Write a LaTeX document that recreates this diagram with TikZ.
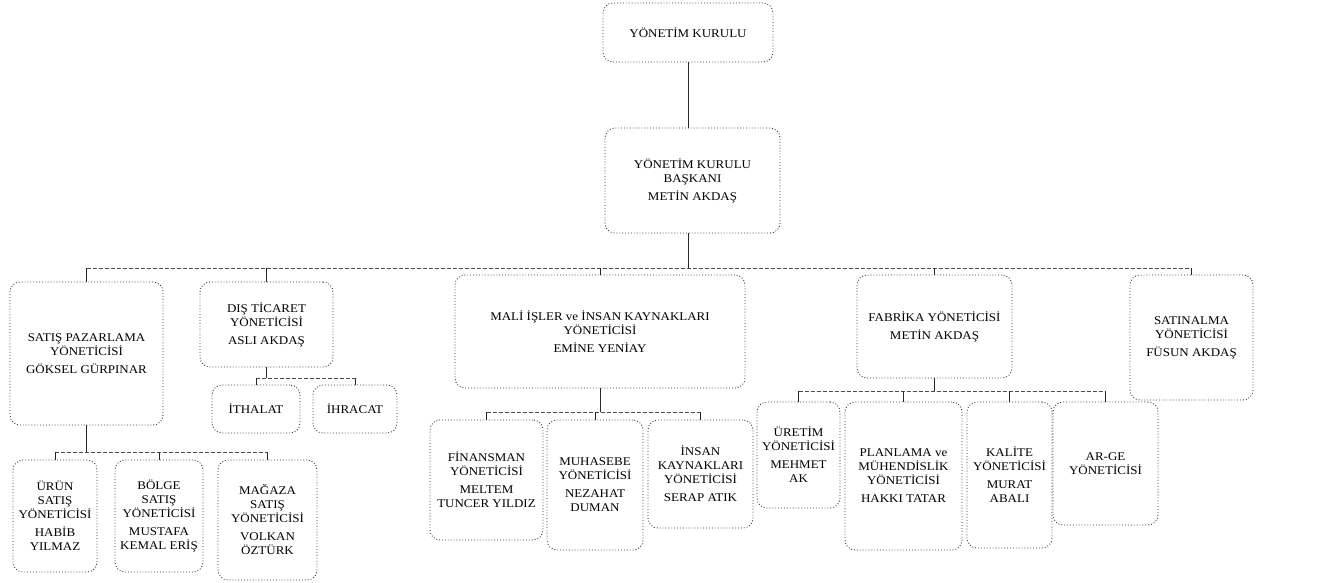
\documentclass[tikz,border=0pt]{standalone}
\usepackage{fontspec}
\setmainfont{Liberation Serif}[FakeStretch=1.1]
\tikzset{
  orglines/.style={line width=0.8pt, draw=black!85},
  orgbus/.style={line width=0.7pt, draw=black!70, dash pattern=on 4pt off 2pt},
  orgbox/.style={draw=black!80, dotted, line width=0.9pt, rounded corners=10pt,
    align=center, inner sep=2pt, font=\fontsize{11.8}{14}\selectfont},
}
\begin{document}
\begin{tikzpicture}[x=1pt, y=-1pt]
\useasboundingbox (0,0) rectangle (1322,582);
\node[orgbox, minimum width=170pt, minimum height=59pt] (kurul) at (688,32.5) {YÖNETİM KURULU};
\node[orgbox, minimum width=175pt, minimum height=105pt] (baskan) at (692.5,180.5) {YÖNETİM KURULU\\BAŞKANI\\[4pt]METİN AKDAŞ};
\node[orgbox, minimum width=153pt, minimum height=143pt] (satis) at (86.5,353.5) {SATIŞ PAZARLAMA\\YÖNETİCİSİ\\[4pt]GÖKSEL GÜRPINAR};
\node[orgbox, minimum width=133pt, minimum height=85pt] (disticaret) at (266.5,324.5) {DIŞ TİCARET\\YÖNETİCİSİ\\[4pt]ASLI AKDAŞ};
\node[orgbox, minimum width=88pt, minimum height=48pt] (ithalat) at (256,409) {İTHALAT};
\node[orgbox, minimum width=84pt, minimum height=48pt] (ihracat) at (355,409) {İHRACAT};
\node[orgbox, minimum width=84pt, minimum height=112pt] (urun) at (55,516) {ÜRÜN\\SATIŞ\\YÖNETİCİSİ\\[4pt]HABİB\\YILMAZ};
\node[orgbox, minimum width=88pt, minimum height=112pt] (bolge) at (159,516) {BÖLGE\\SATIŞ\\YÖNETİCİSİ\\[4pt]MUSTAFA\\KEMAL ERİŞ};
\node[orgbox, minimum width=99pt, minimum height=120pt] (magaza) at (267.5,520) {MAĞAZA\\SATIŞ\\YÖNETİCİSİ\\[4pt]VOLKAN\\ÖZTÜRK};
\node[orgbox, minimum width=290pt, minimum height=113pt] (mali) at (600,331.5) {MALİ İŞLER ve İNSAN KAYNAKLARI\\YÖNETİCİSİ\\[4pt]EMİNE YENİAY};
\node[orgbox, minimum width=113pt, minimum height=120pt] (finansman) at (486.5,480) {FİNANSMAN\\YÖNETİCİSİ\\[4pt]MELTEM\\TUNCER YILDIZ};
\node[orgbox, minimum width=96pt, minimum height=130pt] (muhasebe) at (595,485) {MUHASEBE\\YÖNETİCİSİ\\[4pt]NEZAHAT\\DUMAN};
\node[orgbox, minimum width=105pt, minimum height=108pt] (insan) at (700.5,474) {İNSAN\\KAYNAKLARI\\YÖNETİCİSİ\\[4pt]SERAP ATIK};
\node[orgbox, minimum width=155pt, minimum height=103pt] (fabrika) at (934.5,326.5) {FABRİKA YÖNETİCİSİ\\[4pt]METİN AKDAŞ};
\node[orgbox, minimum width=83pt, minimum height=106pt] (uretim) at (798.5,455) {ÜRETİM\\YÖNETİCİSİ\\[4pt]MEHMET\\AK};
\node[orgbox, minimum width=117pt, minimum height=148pt] (planlama) at (903.5,476) {PLANLAMA ve\\MÜHENDİSLİK\\YÖNETİCİSİ\\[4pt]HAKKI TATAR};
\node[orgbox, minimum width=85pt, minimum height=146pt] (kalite) at (1009.5,475) {KALİTE\\YÖNETİCİSİ\\[4pt]MURAT\\ABALI};
\node[orgbox, minimum width=105pt, minimum height=123pt] (arge) at (1105.5,463.5) {AR-GE\\YÖNETİCİSİ};
\node[orgbox, minimum width=123pt, minimum height=125pt] (satinalma) at (1191.5,337.5) {SATINALMA\\YÖNETİCİSİ\\[4pt]FÜSUN AKDAŞ};
\coordinate (hub) at (688,268);
\coordinate (satishub) at (86.5,452);
\coordinate (dishub) at (266.5,378);
\coordinate (malihub) at (600,412);
\coordinate (fabhub) at (934.5,391);
\draw[orglines] (kurul) -- (kurul |- baskan.north);
\draw[orglines] (baskan.south -| hub) -- (hub);
\draw[orgbus] (satis.north |- hub) -- (satinalma.north |- hub);
\foreach \n in {satis,disticaret,mali,fabrika,satinalma}
  \draw[orglines] (\n.north |- hub) -- (\n.north);
\draw[orglines] (satis) -- (satishub);
\draw[orgbus] (urun.north |- satishub) -- (magaza.north |- satishub);
\foreach \n in {urun,bolge,magaza}
  \draw[orglines] (\n.north |- satishub) -- (\n.north);
\draw[orglines] (disticaret) -- (dishub);
\draw[orgbus] (ithalat.north |- dishub) -- (ihracat.north |- dishub);
\foreach \n in {ithalat,ihracat}
  \draw[orglines] (\n.north |- dishub) -- (\n.north);
\draw[orglines] (mali) -- (malihub);
\draw[orgbus] (finansman.north |- malihub) -- (insan.north |- malihub);
\foreach \n in {finansman,muhasebe,insan}
  \draw[orglines] (\n.north |- malihub) -- (\n.north);
\draw[orglines] (fabrika) -- (fabhub);
\draw[orgbus] (uretim.north |- fabhub) -- (arge.north |- fabhub);
\foreach \n in {uretim,planlama,kalite,arge}
  \draw[orglines] (\n.north |- fabhub) -- (\n.north);
\end{tikzpicture}
\end{document}
